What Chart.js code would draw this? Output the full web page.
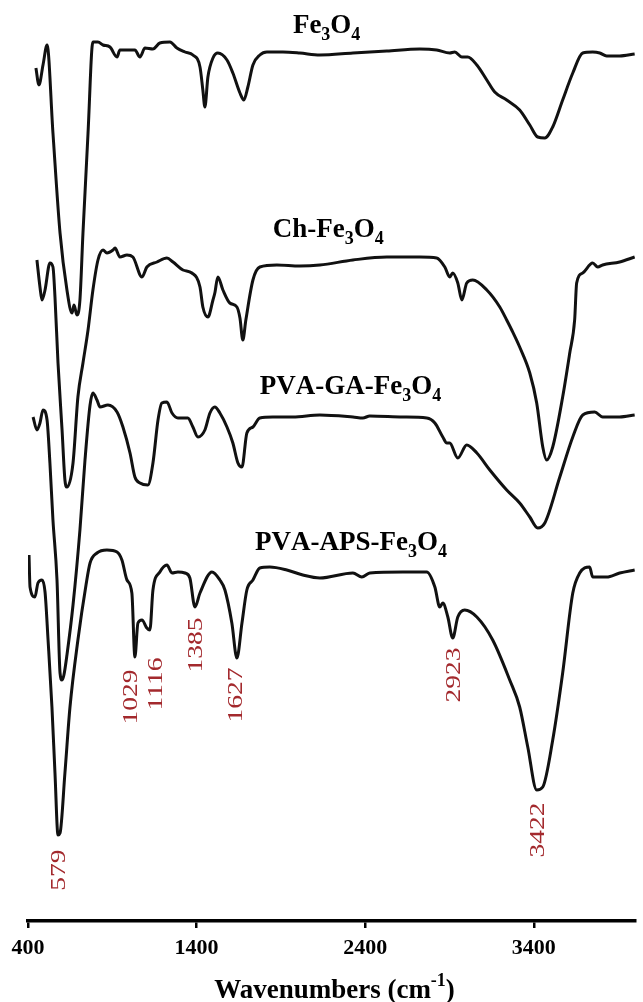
<!DOCTYPE html>
<html>
<head>
<meta charset="utf-8">
<title>FTIR spectra</title>
<script src="https://cdn.jsdelivr.net/npm/chart.js@4.4.1/dist/chart.umd.min.js"></script>
<style>
  html, body { margin: 0; padding: 0; background: #fff; }
  canvas { display: block; }
</style>
</head>
<body>
<canvas id="myChart" width="643" height="1002"></canvas>
<script>
// wavenumber (cm-1) / offset transmittance (a.u.)
const fe3o4Wn = [447,465,489,513,548,590,631,661,673,690,708,726,756,785,815,845,886,928,945,987,1034,1064,1094,1141,1182,1242,1283,1331,1378,1420,1437,1449,1467,1497,1526,1580,1615,1657,1680,1704,1734,1775,1817,1912,2012,2131,2327,2528,2724,2824,2901,2931,2973,3008,3062,3121,3168,3239,3316,3376,3423,3465,3512,3571,3631,3690,3749,3791,3832,3909,3998];
const fe3o4T  = [853,836,856,876,788,688,631,608,616,606,621,688,788,879,879,876,874,864,871,871,871,864,873,872,878,879,873,869,866,854,831,814,844,863,868,861,848,828,821,834,856,866,869,869,868,866,868,870,872,871,868,869,864,864,856,841,829,821,811,796,784,783,794,821,848,868,869,868,865,865,867];

const chWn = [453,471,483,501,530,548,560,578,602,619,631,667,696,726,756,785,815,845,868,904,916,945,987,1022,1076,1105,1165,1224,1260,1319,1372,1420,1437,1467,1497,1508,1526,1556,1597,1639,1657,1674,1692,1734,1775,1876,2012,2131,2327,2528,2724,2824,2872,2901,2919,2949,2973,3002,3038,3121,3198,3239,3269,3316,3376,3417,3453,3476,3512,3571,3613,3642,3654,3690,3749,3779,3808,3909,3998];
const chT  = [661,634,621,631,658,654,624,558,491,441,434,458,524,558,591,631,661,671,668,671,673,664,666,664,644,654,659,663,659,651,648,634,614,604,621,628,644,631,618,614,603,581,601,641,654,656,655,656,661,664,664,663,654,644,648,638,621,638,641,631,614,601,591,574,548,518,474,461,474,524,568,601,638,648,658,654,656,659,664];

const gaWn = [430,453,471,489,513,530,548,572,590,602,613,631,667,708,738,768,785,809,827,874,928,963,1005,1034,1064,1111,1141,1171,1194,1224,1254,1289,1348,1378,1408,1449,1479,1508,1538,1580,1615,1645,1669,1698,1734,1775,1852,1971,2131,2327,2386,2427,2623,2765,2813,2860,2884,2901,2949,3002,3062,3139,3239,3316,3376,3423,3465,3554,3631,3690,3761,3808,3909,3998];
const gaT  = [504,491,498,511,501,458,401,341,248,241,246,266,316,391,461,516,528,521,514,516,509,494,468,444,438,436,458,501,518,519,508,503,503,494,484,491,508,514,508,494,478,458,454,488,494,503,504,504,506,504,503,505,504,503,498,484,478,478,463,476,468,451,431,418,404,393,398,444,484,506,509,504,504,506];

const apsWn = [406,412,441,459,483,501,519,542,560,578,590,619,649,696,744,768,809,868,928,957,987,1016,1034,1052,1076,1105,1123,1141,1182,1224,1254,1289,1331,1360,1390,1420,1491,1538,1568,1609,1639,1669,1698,1734,1775,1834,1935,2030,2131,2327,2380,2427,2623,2765,2813,2842,2860,2890,2919,2949,2990,3062,3156,3257,3316,3364,3417,3453,3512,3571,3631,3672,3731,3749,3832,3909,3998];
const apsT  = [366,334,324,338,341,329,281,214,148,86,88,148,214,281,336,358,368,371,369,361,341,328,264,298,301,293,291,331,349,356,348,349,348,343,314,328,349,341,331,298,263,298,331,341,353,354,351,346,343,348,344,348,349,349,334,314,318,304,283,304,311,304,281,241,214,174,131,134,181,248,328,348,354,344,344,348,351];

const seriesNames = ['Fe3O4', 'Ch-Fe3O4', 'PVA-GA-Fe3O4', 'PVA-APS-Fe3O4'];
const xTicks = [400, 1400, 2400, 3400];

// marked bands of PVA-APS-Fe3O4
const peakLabels = ['579', '1029', '1116', '1385', '1627', '2923', '3422'];

const SERIF = '"Liberation Serif", "Times New Roman", serif';

function zip(wn, t) {
    return wn.map((w, i) => ({ x: w, y: t[i] }));
}

// where the names and band labels sit (wavenumber, a.u.)
const nameAt = [[1971, 888], [1852, 684], [1775, 527], [1746, 371]];
const peakLabelAt = [[579, 51], [1005, 224], [1153, 237], [1390, 276], [1627, 226], [2923, 246], [3422, 91]];

// text with digits set as subscripts (chemical formulas)
function drawFormula(ctx, text, x, y) {
    let cx = x;
    for (const ch of text) {
        const sub = ch >= '0' && ch <= '9';
        ctx.font = 'bold ' + (sub ? 18 : 27) + 'px ' + SERIF;
        ctx.fillText(ch, cx, sub ? y + 7 : y);
        cx += ctx.measureText(ch).width;
    }
}

const textPlugin = {
    id: 'textPlugin',
    afterDraw(chart) {
        const ctx = chart.ctx;
        const xs = chart.scales.x;
        const ys = chart.scales.y;
        ctx.save();
        ctx.fillStyle = '#000';
        ctx.textBaseline = 'alphabetic';
        ctx.textAlign = 'left';

        // curve names
        seriesNames.forEach((name, i) => {
            drawFormula(ctx, name, xs.getPixelForValue(nameAt[i][0]), ys.getPixelForValue(nameAt[i][1]));
        });

        // axis title with superscript
        const t1 = 'Wavenumbers (cm';
        ctx.font = 'bold 27px ' + SERIF;
        const w1 = ctx.measureText(t1).width;
        const w3 = ctx.measureText(')').width;
        ctx.font = 'bold 18px ' + SERIF;
        const w2 = ctx.measureText('-1').width;
        const total = w1 + w2 + w3;
        let tx = (xs.left + xs.right) / 2 + 3 - total / 2;
        const ty = 998;
        ctx.font = 'bold 27px ' + SERIF;
        ctx.fillText(t1, tx, ty);
        ctx.font = 'bold 18px ' + SERIF;
        ctx.fillText('-1', tx + w1, ty - 12);
        ctx.font = 'bold 27px ' + SERIF;
        ctx.fillText(')', tx + w1 + w2, ty);

        // band labels, rotated
        ctx.fillStyle = '#a3292d';
        ctx.font = '22px ' + SERIF;
        ctx.textAlign = 'center';
        ctx.textBaseline = 'middle';
        peakLabels.forEach((lab, i) => {
            ctx.save();
            ctx.translate(xs.getPixelForValue(peakLabelAt[i][0]), ys.getPixelForValue(peakLabelAt[i][1]));
            ctx.rotate(-Math.PI / 2);
            ctx.scale(1.25, 1);
            ctx.fillText(lab, 0, 1);
            ctx.restore();
        });
        ctx.restore();
    }
};

const lineStyle = {
    borderColor: '#111',
    borderWidth: 3,
    pointRadius: 0,
    fill: false,
    cubicInterpolationMode: 'monotone'
};

const data = {
    datasets: [
        Object.assign({ label: seriesNames[0], data: zip(fe3o4Wn, fe3o4T) }, lineStyle),
        Object.assign({ label: seriesNames[1], data: zip(chWn, chT) }, lineStyle),
        Object.assign({ label: seriesNames[2], data: zip(gaWn, gaT) }, lineStyle),
        Object.assign({ label: seriesNames[3], data: zip(apsWn, apsT) }, lineStyle)
    ]
};

const config = {
    type: 'line',
    data: data,
    options: {
        responsive: false,
        animation: false,
        layout: { padding: { top: 21, left: 28, right: 8, bottom: 41 } },
        plugins: {
            legend: { display: false },
            tooltip: { enabled: false }
        },
        scales: {
            x: {
                type: 'linear',
                min: 400,
                max: 4000,
                afterBuildTicks: (axis) => { axis.ticks = xTicks.map(v => ({ value: v })); },
                afterFit: (axis) => { axis.height = 40; },
                grid: { drawOnChartArea: false, drawTicks: true, tickLength: 7, color: '#000', lineWidth: 2.5 },
                border: { display: true, color: '#000', width: 3.5 },
                ticks: {
                    color: '#000',
                    font: { family: SERIF, size: 22, weight: 'bold' },
                    padding: 7,
                    maxRotation: 0,
                    autoSkip: false,
                    callback: (v) => String(v)
                }
            },
            y: { display: false, min: 0, max: 900 }
        }
    },
    plugins: [textPlugin]
};

new Chart(document.getElementById('myChart'), config);
</script>
</body>
</html>
